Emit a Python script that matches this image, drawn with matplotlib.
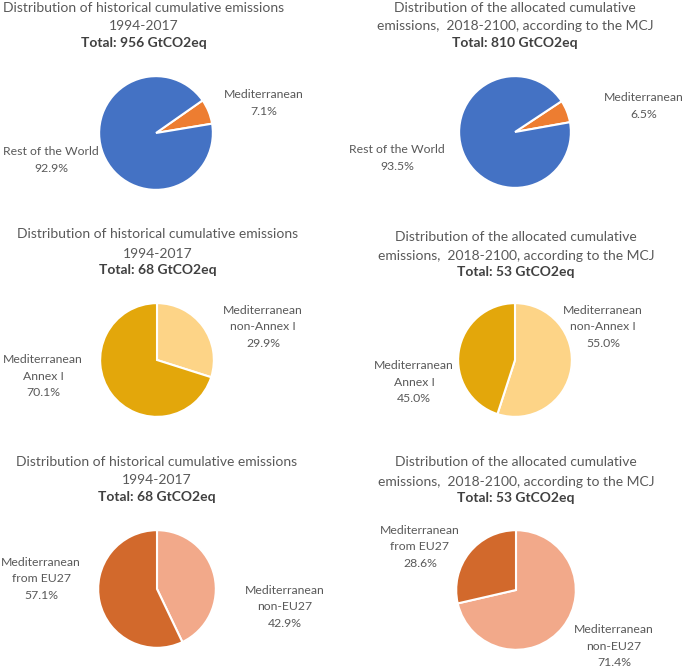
"""Six pie charts: historical vs allocated cumulative emissions."""

import matplotlib

matplotlib.use("Agg")

import matplotlib.pyplot as plt

W, H = 685, 668

plt.rcParams["font.family"] = ["Lato", "DejaVu Sans"]

TEXT = "#595959"
BOLD = "#404040"

# data, one list per pie (first slice drawn first, clockwise)
row1_left_labels = ["Mediterranean", "Rest of the World"]
row1_left_values = [7.1, 92.9]
row1_right_labels = ["Mediterranean", "Rest of the World"]
row1_right_values = [6.5, 93.5]

row2_left_labels = ["Mediterranean\nnon-Annex I", "Mediterranean\nAnnex I"]
row2_left_values = [29.9, 70.1]
row2_right_labels = ["Mediterranean\nnon-Annex I", "Mediterranean\nAnnex I"]
row2_right_values = [55.0, 45.0]

row3_left_labels = ["Mediterranean\nnon-EU27", "Mediterranean\nfrom EU27"]
row3_left_values = [42.9, 57.1]
row3_right_labels = ["Mediterranean\nnon-EU27", "Mediterranean\nfrom EU27"]
row3_right_values = [71.4, 28.6]

hist_title = "Distribution of historical cumulative emissions\n1994-2017"
alloc_title = "Distribution of the allocated cumulative\nemissions,  2018-2100, according to the MCJ"
totals = ["956", "810", "68", "53", "68", "53"]

pies = [
    # values, labels, colors, center px, radius px, startangle, title, title x, title y, label positions
    (row1_left_values, row1_left_labels, ["#ED7D31", "#4472C4"], (156, 133), 58, 35,
     hist_title, 144, 16, [(264, 103), (51, 160)]),
    (row1_right_values, row1_right_labels, ["#ED7D31", "#4472C4"], (515, 132), 57, 33.5,
     alloc_title, 515, 16, [(644, 106), (397, 158)]),
    (row2_left_values, row2_left_labels, ["#FDD487", "#E3A70B"], (157, 360), 58, 90,
     hist_title, 158, 243, [(263, 327), (43, 376)]),
    (row2_right_values, row2_right_labels, ["#FDD487", "#E3A70B"], (515, 360), 58, 90,
     alloc_title, 516, 245, [(603, 327), (414, 382)]),
    (row3_left_values, row3_left_labels, ["#F2A98A", "#D2692C"], (157, 589), 60, 90,
     hist_title, 157, 470, [(285, 607), (41, 579)]),
    (row3_right_values, row3_right_labels, ["#F2A98A", "#D2692C"], (516, 590), 61, 90,
     alloc_title, 516, 471, [(614, 646), (420, 547)]),
]


def fx(x):
    return x / W


def fy(y):
    return 1 - y / H


fig = plt.figure(figsize=(W / 100, H / 100), dpi=100)

for i, (values, labels, colors, (cx, cy), r, start, title, tx, ty, label_pos) in enumerate(pies):
    ax = fig.add_axes([fx(cx - r), fy(cy + r), 2 * r / W, 2 * r / H])
    ax.pie(values, colors=colors, startangle=start, counterclock=False, radius=1,
           wedgeprops={"edgecolor": "white", "linewidth": 1.5})
    ax.set_xlim(-1.02, 1.02)
    ax.set_ylim(-1.02, 1.02)
    ax.axis("off")

    # two grey title lines, then the bold total
    fig.text(fx(tx), fy(ty + 1), title, ha="center", va="center", fontsize=10,
             color=TEXT, linespacing=1.7)
    fig.text(fx(tx), fy(ty + 27), f"Total: {totals[i]} GtCO2eq", ha="center", va="center",
             fontsize=10, fontweight="bold", color=BOLD)

    for lab, val, (lx, ly) in zip(labels, values, label_pos):
        fig.text(fx(lx), fy(ly), f"{lab}\n{val:.1f}%", ha="center", va="center",
                 fontsize=8.8, color=TEXT, linespacing=1.65, multialignment="center")

fig.savefig("out.png", dpi=100)
